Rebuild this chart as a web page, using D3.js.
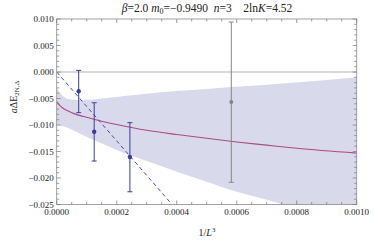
<!DOCTYPE html>
<html><head><meta charset="utf-8">
<script src="https://cdn.jsdelivr.net/npm/d3@7/dist/d3.min.js"></script>
<style>body{margin:0;background:#fff}svg{display:block}text{font-family:"Liberation Serif","DejaVu Serif",serif}</style>
</head><body>
<svg id="c" width="374" height="241"></svg>
<script>
// Data
const xTicks = [0, 0.0002, 0.0004, 0.0006, 0.0008, 0.0010];
const xTickLabels = ["0.0000","0.0002","0.0004","0.0006","0.0008","0.0010"];
const yTicks = [0.010, 0.005, 0.000, -0.005, -0.010, -0.015, -0.020, -0.025];
const yTickLabels = ["0.010","0.005","0.000","\u22120.005","\u22120.010","\u22120.015","\u22120.020","\u22120.025"];

const ptX   = [0.0000733, 0.000125, 0.000244];
const ptY   = [-0.00364, -0.01126, -0.01604];
const ptHi  = [0.0003, -0.0058, -0.00956];
const ptLo  = [-0.00768, -0.0168, -0.0226];

const grayX = [0.000582];
const grayY = [-0.00566];
const grayHi = [0.00943];
const grayLo = [-0.0208];

const fitX = [0, 0.00001, 0.00002, 0.00004, 0.00006, 0.00009, 0.00013, 0.0002, 0.0003, 0.0004, 0.0005, 0.0006, 0.0007, 0.0008, 0.001];
const fitY = [-0.0056, -0.0063, -0.0068, -0.0074, -0.0079, -0.0084, -0.0090, -0.0099, -0.0110, -0.0118, -0.0125, -0.0132, -0.0138, -0.0144, -0.0153];

const bandUpX = [0, 0.00001, 0.00002, 0.00003, 0.00005, 0.00008, 0.00012, 0.0002, 0.0003, 0.0004, 0.0005, 0.0006, 0.0007, 0.0008, 0.001];
const bandUpY = [-0.0030, -0.0038, -0.0045, -0.0049, -0.0052, -0.0053, -0.0052, -0.0047, -0.0041, -0.0036, -0.0032, -0.0028, -0.0024, -0.0020, -0.0010];
const bandLoX = [0, 0.00001, 0.00003, 0.00005, 0.0001, 0.00015, 0.0002, 0.00025, 0.0003, 0.0004, 0.0005, 0.0006, 0.0007, 0.0008, 0.001];
const bandLoY = [-0.0100, -0.0101, -0.0104, -0.0109, -0.0122, -0.0135, -0.0147, -0.0158, -0.0168, -0.0188, -0.0207, -0.0226, -0.0241, -0.0258, -0.0290];

const lineX = [0, 0.0005];
const lineY = [0, -0.0325];

const svg = d3.select("#c");
const L = 56.7, R = 356.7, T = 19, B = 204.5;
const x = d3.scaleLinear().domain([0, 0.001]).range([L, R]);
const y = d3.scaleLinear().domain([-0.025, 0.010]).range([B, T]);

svg.append("defs").append("clipPath").attr("id","clip")
  .append("rect").attr("x",L).attr("y",T).attr("width",R-L).attr("height",B-T);
const g = svg.append("g").attr("clip-path","url(#clip)");

const lineGen = d3.line().x(d=>x(d[0])).y(d=>y(d[1])).curve(d3.curveMonotoneX);
const area = d3.area().x(d=>x(d.x)).y0(d=>y(d.lo)).y1(d=>y(d.up)).curve(d3.curveMonotoneX);
const interp = (XS,YS,xx)=>{ for(let i=0;i<XS.length-1;i++){ if(xx>=XS[i]&&xx<=XS[i+1]){const t=(xx-XS[i])/(XS[i+1]-XS[i]);return YS[i]+t*(YS[i+1]-YS[i]);} } return YS[YS.length-1]; };
const allX = Array.from(new Set(bandUpX.concat(bandLoX))).sort((a,b)=>a-b);
g.append("path").datum(allX.map(v=>({x:v, up:interp(bandUpX,bandUpY,v), lo:interp(bandLoX,bandLoY,v)})))
  .attr("d", area).attr("fill","#d9d9ec").attr("stroke","none");

// zero line
g.append("line").attr("x1",x(0)).attr("x2",x(0.001)).attr("y1",y(0)).attr("y2",y(0))
  .attr("stroke","#b3b3b3").attr("stroke-width",1);

// fit curve
g.append("path").datum(fitX.map((v,i)=>[v,fitY[i]])).attr("d", lineGen)
  .attr("fill","none").attr("stroke","#ad4b7f").attr("stroke-width",1.1);

// dashed line
g.append("line").attr("x1",x(lineX[0])).attr("y1",y(lineY[0])).attr("x2",x(lineX[1])).attr("y2",y(lineY[1]))
  .attr("stroke","#4a4aaa").attr("stroke-width",1).attr("stroke-dasharray","4,3");

// error bars
function errs(X,Y,H,Lo,col,r){
  X.forEach((v,i)=>{
    const xx = x(v);
    g.append("line").attr("x1",xx).attr("x2",xx).attr("y1",y(H[i])).attr("y2",y(Lo[i])).attr("stroke",col).attr("stroke-width",1);
    [H[i],Lo[i]].forEach(e=>g.append("line").attr("x1",xx-2.5).attr("x2",xx+2.5).attr("y1",y(e)).attr("y2",y(e)).attr("stroke",col).attr("stroke-width",1));
    g.append("circle").attr("cx",xx).attr("cy",y(Y[i])).attr("r",r).attr("fill",col);
  });
}
errs(ptX,ptY,ptHi,ptLo,"#3a3aa0",2.2);
errs(grayX,grayY,grayHi,grayLo,"#858585",2.0);

// frame
svg.append("rect").attr("x",L).attr("y",T).attr("width",R-L).attr("height",B-T)
  .attr("fill","none").attr("stroke","#8c8c8c").attr("stroke-width",0.8);

// ticks
const tc = "#777";
d3.range(0, 0.00100001, 0.00005).forEach(v=>{
  const major = Math.abs(v/0.0002 - Math.round(v/0.0002))<1e-6;
  const len = major?4:2.5;
  svg.append("line").attr("x1",x(v)).attr("x2",x(v)).attr("y1",B).attr("y2",B-len).attr("stroke",tc).attr("stroke-width",0.7);
  svg.append("line").attr("x1",x(v)).attr("x2",x(v)).attr("y1",T).attr("y2",T+len).attr("stroke",tc).attr("stroke-width",0.7);
});
d3.range(-0.025, 0.0100001, 0.001).forEach(v=>{
  const major = Math.abs(v/0.005 - Math.round(v/0.005))<1e-6;
  const len = major?4:2.5;
  svg.append("line").attr("x1",L).attr("x2",L+len).attr("y1",y(v)).attr("y2",y(v)).attr("stroke",tc).attr("stroke-width",0.7);
  svg.append("line").attr("x1",R).attr("x2",R-len).attr("y1",y(v)).attr("y2",y(v)).attr("stroke",tc).attr("stroke-width",0.7);
});

// tick labels
xTicks.forEach((v,i)=>svg.append("text").attr("x",x(v)).attr("y",B+10.5).attr("text-anchor","middle")
  .attr("font-size",9).attr("fill","#222").text(xTickLabels[i]));
yTicks.forEach((v,i)=>svg.append("text").attr("x",L-3).attr("y",y(v)+3).attr("text-anchor","end")
  .attr("font-size",9).attr("fill","#222").text(yTickLabels[i]));

// title
const t = svg.append("text").attr("x",207).attr("y",12).attr("text-anchor","middle").attr("font-size",11.5).attr("fill","#222")
  .attr("xml:space","preserve").style("white-space","pre");
t.append("tspan").attr("font-style","italic").text("\u03B2");
t.append("tspan").text("=2.0 ");
t.append("tspan").attr("font-style","italic").text("m");
t.append("tspan").attr("font-size",8).attr("dy",2).text("0");
t.append("tspan").attr("dy",-2).text("=\u22120.9490  ");
t.append("tspan").attr("font-style","italic").text("n");
t.append("tspan").text("=3    2ln");
t.append("tspan").attr("font-style","italic").text("K");
t.append("tspan").text("=4.52");

// x label
const xl = svg.append("text").attr("x",207).attr("y",236).attr("text-anchor","middle").attr("font-size",10).attr("fill","#222");
xl.append("tspan").text("1/");
xl.append("tspan").attr("font-style","italic").text("L");
xl.append("tspan").attr("font-size",7).attr("dy",-4).text("3");

// y label
const yl = svg.append("text").attr("transform","translate(17,97) rotate(-90)").attr("text-anchor","middle").attr("font-size",10).attr("fill","#222");
yl.append("tspan").attr("font-style","italic").text("a");
yl.append("tspan").text("\u0394E");
yl.append("tspan").attr("font-size",7).attr("dy",2).text("2N,\u0394");
</script>
</body></html>
